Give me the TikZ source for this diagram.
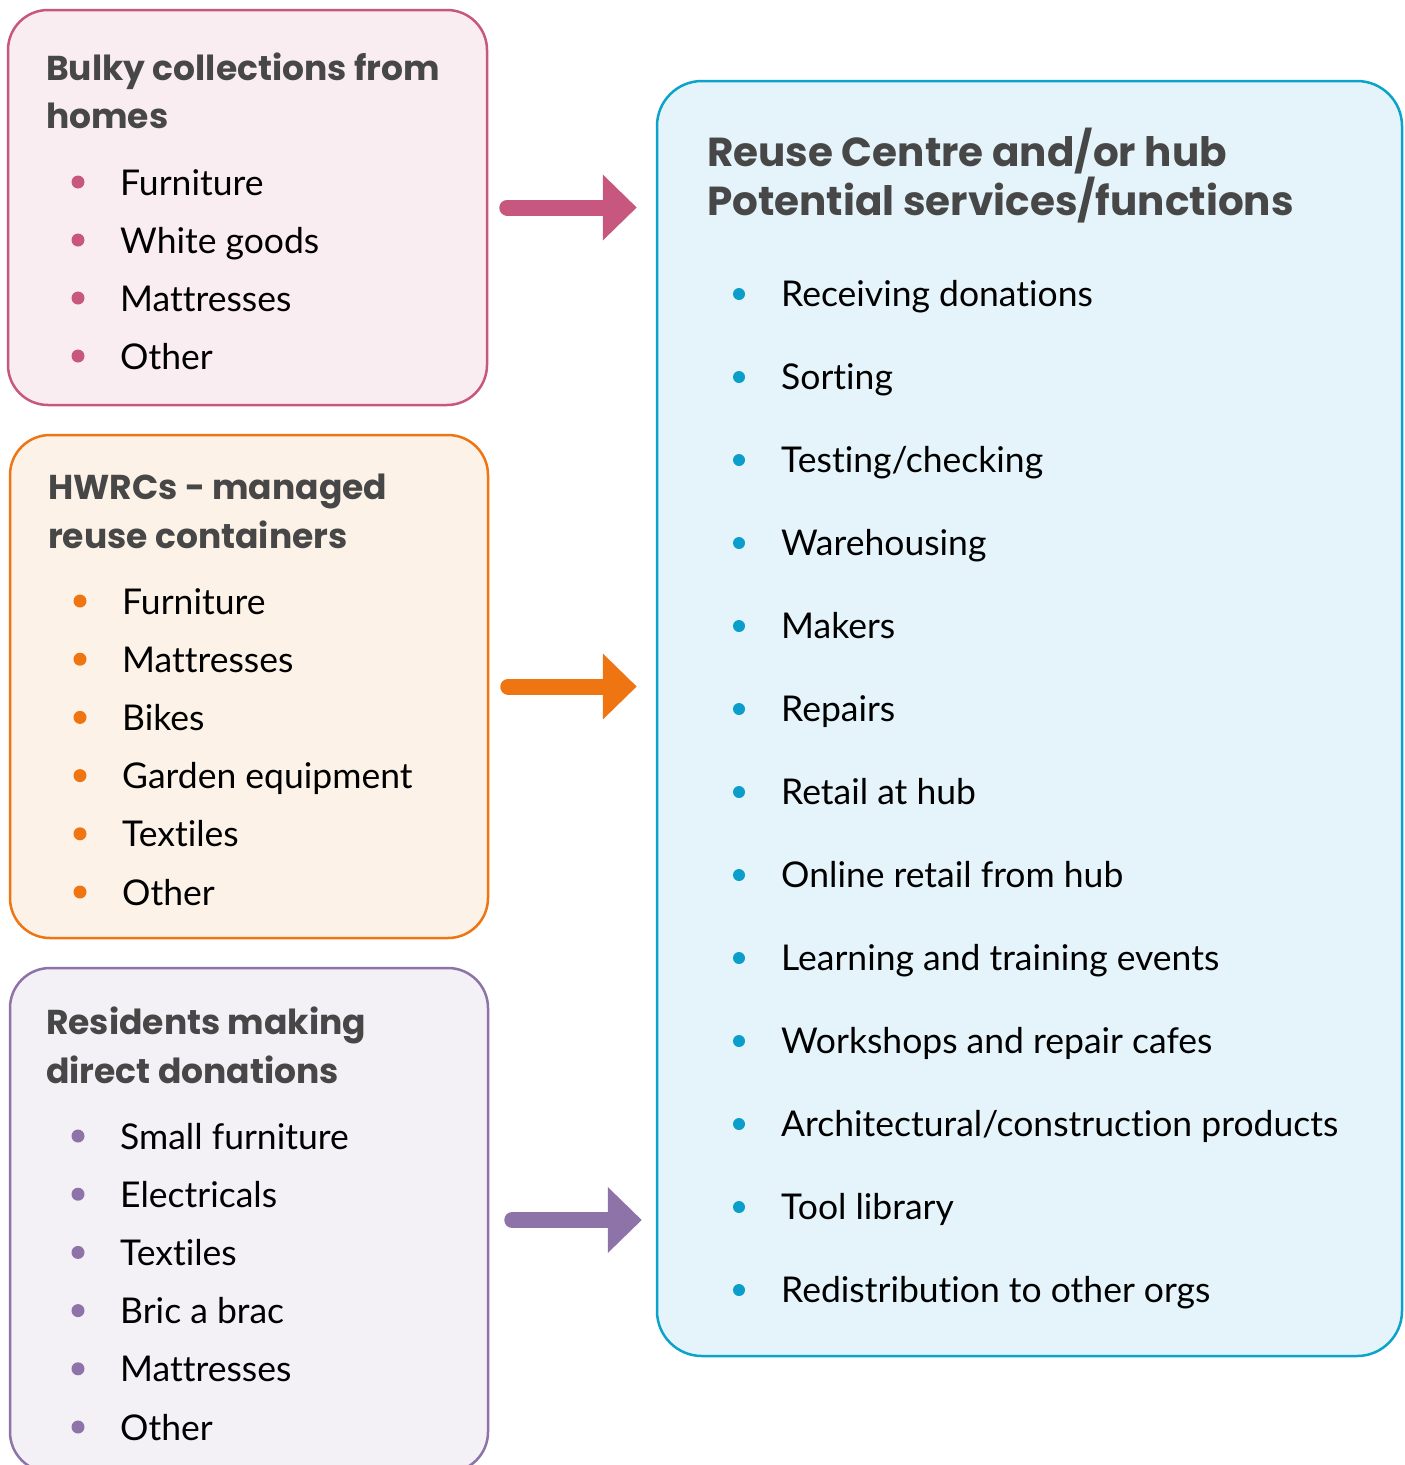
\documentclass[tikz,border=0pt]{standalone}
\usepackage{fontspec}
\setmainfont{Lato}[Ligatures=NoCommon]
\newfontfamily\hdrfont{Poppins}
\usetikzlibrary{arrows.meta}
\definecolor{pinkB}{HTML}{C8577F}
\definecolor{pinkF}{HTML}{F9EDF2}
\definecolor{orangeB}{HTML}{EE7512}
\definecolor{orangeF}{HTML}{FDF2E7}
\definecolor{purpleB}{HTML}{8D73A8}
\definecolor{purpleF}{HTML}{F3F0F6}
\definecolor{blueB}{HTML}{0CA3CB}
\definecolor{blueF}{HTML}{E5F4FA}
\definecolor{blueD}{HTML}{0B9ECB}
\definecolor{titleG}{HTML}{474747}
\tikzset{
  srcbox/.style={draw, line width=2.5pt, rounded corners=40pt, inner sep=0pt},
  ttl/.style={anchor=base west, inner sep=0pt, text=titleG, font=\hdrfont\fontsize{34.5}{40}\selectfont\bfseries},
  hubttl/.style={anchor=base west, inner sep=0pt, text=titleG, font=\hdrfont\fontsize{40.5}{46}\selectfont\bfseries},
  itm/.style={anchor=base west, inner sep=0pt, text=black, font=\fontsize{35.5}{40}\selectfont},
  dot/.style={circle, inner sep=0pt, minimum size=13pt},
  flow/.style={line width=16pt, line cap=round, -{Triangle[length=34pt,width=64pt]}}
}
\begin{document}
\begin{tikzpicture}[x=1pt,y=-1pt]
\useasboundingbox (0,0) rectangle (1405,1465);
\fill[white] (0,0) rectangle (1405,1465);
% boxes
\node[srcbox, draw=pinkB, fill=pinkF, minimum width=479pt, minimum height=395pt] (b1) at (247.5,207.5) {};
\node[srcbox, draw=orangeB, fill=orangeF, minimum width=478pt, minimum height=503pt] (b2) at (249,686.5) {};
\node[srcbox, draw=purpleB, fill=purpleF, minimum width=478pt, minimum height=504pt] (b3) at (249,1220) {};
\node[srcbox, draw=blueB, fill=blueF, rounded corners=45pt, minimum width=745pt, minimum height=1275pt] (hub) at (1029.5,718.5) {};
% titles
\node[ttl] (t1a) at (46,80) {Bulky collections from};
\node[ttl] (t1b) at (46,128) {homes};
\node[ttl] (t2a) at (48,499) {HWRCs - managed};
\node[ttl] (t2b) at (48,548) {reuse containers};
\node[ttl] (t3a) at (46,1034) {Residents making};
\node[ttl] (t3b) at (46,1083) {direct donations};
\node[hubttl] (ha) at (707,166) {Reuse Centre and/or hub};
\node[hubttl] (hb) at (707,215) {Potential services/functions};
% lists
\foreach \t [count=\i] in {Furniture, White goods, Mattresses, Other}{
  \node[dot, fill=pinkB] (d1\i) at (78,{182+58*(\i-1)}) {};
  \node[itm] (i1\i) at (120,{195+58*(\i-1)}) {\t};
}
\foreach \t [count=\i] in {Furniture, Mattresses, Bikes, Garden equipment, Textiles, Other}{
  \node[dot, fill=orangeB] (d2\i) at (80,{601+58.2*(\i-1)}) {};
  \node[itm] (i2\i) at (122,{614+58.2*(\i-1)}) {\t};
}
\foreach \t [count=\i] in {Small furniture, Electricals, Textiles, Bric a brac, Mattresses, Other}{
  \node[dot, fill=purpleB] (d3\i) at (78,{1136+58.2*(\i-1)}) {};
  \node[itm] (i3\i) at (120,{1149+58.2*(\i-1)}) {\t};
}
\foreach \t [count=\i] in {Receiving donations, Sorting, Testing/checking, Warehousing, Makers, Repairs, Retail at hub, Online retail from hub, Learning and training events, Workshops and repair cafes, Architectural/construction products, Tool library, Redistribution to other orgs}{
  \node[dot, fill=blueD, minimum size=12pt] (d4\i) at (739,{294+83*(\i-1)}) {};
  \node[itm] (i4\i) at (781,{306+83*(\i-1)}) {\t};
}
% arrows
\draw[flow, pinkB] ([xshift=19pt]b1.east) -- ([xshift=-19pt]b1.east -| hub.west);
\draw[flow, orangeB] ([xshift=19pt]b2.east) -- ([xshift=-19pt]b2.east -| hub.west);
\draw[flow, purpleB] ([xshift=23pt]b3.east) -- ([xshift=-14pt]b3.east -| hub.west);
\end{tikzpicture}
\end{document}
